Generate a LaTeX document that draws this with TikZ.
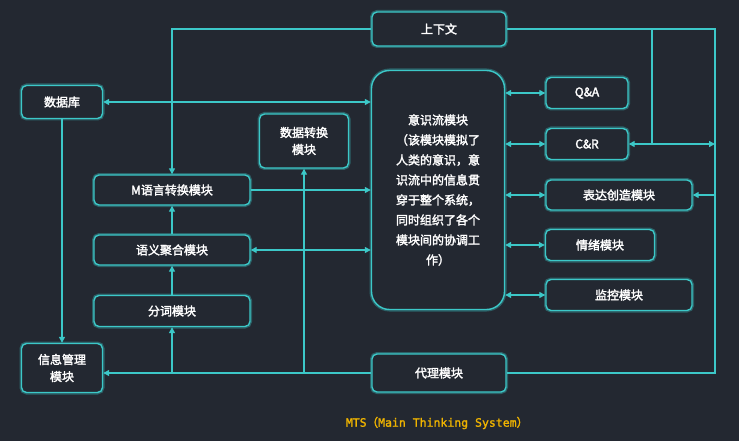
\documentclass[tikz,border=0pt]{standalone}
\usepackage{fontspec}
\newfontfamily\cjk[FakeBold=2.2]{Noto Sans CJK SC}
\newfontfamily\monob[FakeBold=1.5]{DejaVu Sans Mono}
\usetikzlibrary{arrows.meta}
\definecolor{bgdark}{RGB}{35,40,49}
\definecolor{glow}{RGB}{60,200,200}
\definecolor{titlegold}{RGB}{240,180,0}
\tikzset{
  modbox/.style={draw=glow,line width=1.4pt,rounded corners=5pt,fill=bgdark,
    text=white,font=\cjk\fontsize{12}{17}\selectfont,align=center,inner sep=0pt,
    preaction={draw=glow!60!bgdark,line width=4pt,opacity=0.6}},
  link/.style={glow,line width=1.3pt},
  tip/.style={-{Triangle[width=6pt,length=6pt]}},
  tips/.style={{Triangle[width=6pt,length=6pt]}-{Triangle[width=6pt,length=6pt]}}
}
\begin{document}
\begin{tikzpicture}[x=1pt,y=-1pt]
\fill[bgdark] (0,0) rectangle (739,441);
\useasboundingbox (0,0) rectangle (739,441);
% boxes
\node[modbox,minimum width=134pt,minimum height=34pt] (ctx) at (439,29) {上下文};
\node[modbox,minimum width=81pt,minimum height=33pt] (db) at (62,102) {数据库};
\node[modbox,minimum width=133pt,minimum height=239pt,rounded corners=18pt,
  font=\cjk\fontsize{12}{20}\selectfont] (flow) at (438,190)
  {意识流模块\\（该模块模拟了\\人类的意识，意\\识流中的信息贯\\穿于整个系统，\\同时组织了各个\\模块间的协调工\\作）};
\node[modbox,minimum width=82pt,minimum height=31pt] (qa) at (587,93) {Q\&A};
\node[modbox,minimum width=82pt,minimum height=31pt] (cr) at (587,144) {C\&R};
\node[modbox,minimum width=146pt,minimum height=30pt] (expr) at (619,195) {表达创造模块};
\node[modbox,minimum width=109pt,minimum height=31pt] (emo) at (600,245) {情绪模块};
\node[modbox,minimum width=146pt,minimum height=31pt] (mon) at (619,295) {监控模块};
\node[modbox,minimum width=134pt,minimum height=38pt] (agent) at (439,373) {代理模块};
\node[modbox,minimum width=89pt,minimum height=54pt] (conv) at (304,141) {数据转换\\模块};
\node[modbox,minimum width=156pt,minimum height=30pt] (mlang) at (172,190) {M语言转换模块};
\node[modbox,minimum width=156pt,minimum height=30pt] (sem) at (172,250) {语义聚合模块};
\node[modbox,minimum width=156pt,minimum height=31pt] (seg) at (172,311) {分词模块};
\node[modbox,minimum width=81pt,minimum height=49pt] (info) at (62,368) {信息管理\\模块};
\node[text=titlegold,font=\monob\fontsize{11.5}{13}\selectfont] (title) at (437,423)
  {MTS{\cjk（}Main Thinking System{\cjk）}};
% helper points
\coordinate (rtop) at (715,29);
\coordinate (rbot) at (715,373);
\coordinate (ctxj) at (652,29);
% connectors
\draw[link,tip] (ctx.west) -| (mlang.north);
\draw[link] (ctx.east) -- (rtop) -- (rbot) -- (agent.east);
\draw[link,tip] (ctxj) |- (cr.east);
\draw[link,tip] (ctxj |- cr.east) -- (rtop |- cr.east);
\draw[link,tip] (rtop |- expr.east) -- (expr.east);
\draw[link,tips] (db.east) -- (flow.west |- db.east);
\draw[link,tip] (db.south) -- (info.north);
\draw[link,tip] (mlang.east) -- (flow.west |- mlang.east);
\draw[link,tips] (sem.east) -- (flow.west |- sem.east);
\draw[link,tip] (sem.north) -- (mlang.south);
\draw[link,tip] (seg.north) -- (sem.south);
\draw[link,tip] (agent.west) -- (info.east |- agent.west);
\draw[link,tip] (seg.south |- agent.west) -- (seg.south);
\draw[link,tip] (conv.south |- agent.west) -- (conv.south);
\foreach \m in {qa,cr,expr,emo,mon}
  \draw[link,tips] (flow.east |- \m.west) -- (\m.west);
\end{tikzpicture}
\end{document}
